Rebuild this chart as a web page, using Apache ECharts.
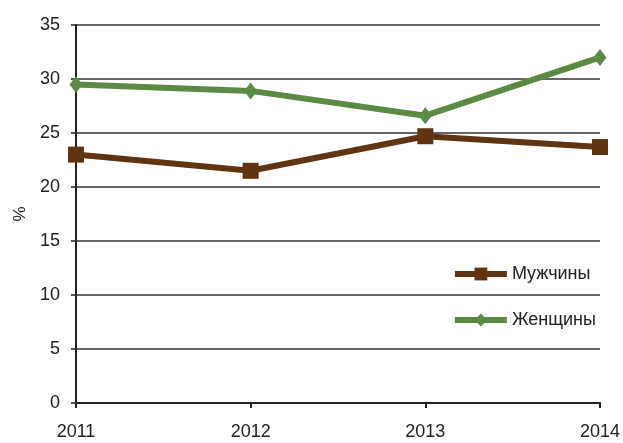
<!DOCTYPE html>
<html><head><meta charset="utf-8">
<script src="https://cdn.jsdelivr.net/npm/echarts@6/dist/echarts.min.js"></script>
<style>html,body{margin:0;padding:0;background:#fff}#c{width:623px;height:443px}</style>
</head><body><div id="c"></div>
<script>
var years = ['2011','2012','2013','2014'];
var men = [23.0, 21.5, 24.7, 23.7];
var women = [29.5, 28.9, 26.6, 32.0];
var menName = 'Мужчины';
var womenName = 'Женщины';
var FONT = '"Liberation Sans", Arial, sans-serif';
var chart = echarts.init(document.getElementById('c'));
chart.setOption({
  animation: false,
  grid: {left: 76, right: 20, top: 25, bottom: 40},
  legend: {
    orient: 'vertical', right: 22, top: 260, itemGap: 28,
    itemWidth: 52, itemHeight: 16,
    textStyle: {fontFamily: FONT, fontSize: 18, color: '#222'},
    data: [
      {name: menName, lineStyle: {width: 6}},
      {name: womenName, lineStyle: {width: 6}}
    ]
  },
  xAxis: {
    type: 'category', data: years, boundaryGap: false,
    axisLine: {lineStyle: {color: '#222', width: 2}},
    axisTick: {show: true, alignWithLabel: true, length: 5, lineStyle: {color: '#222', width: 2}},
    axisLabel: {fontFamily: FONT, fontSize: 18, color: '#222', margin: 20, showMinLabel: true, showMaxLabel: true}
  },
  yAxis: {
    type: 'value', min: 0, max: 35, interval: 5,
    name: '%', nameLocation: 'middle', nameGap: 46, nameRotate: 90,
    nameTextStyle: {fontFamily: FONT, fontSize: 17, color: '#222', padding: [0, 0, 0, 0]},
    axisLine: {show: true, lineStyle: {color: '#222', width: 2}},
    axisTick: {show: true, length: 5, lineStyle: {color: '#222', width: 1.5}},
    axisLabel: {fontFamily: FONT, fontSize: 18, color: '#222', margin: 16},
    splitLine: {lineStyle: {color: '#333', width: 1.5}}
  },
  series: [
    {name: menName, type: 'line', data: men, symbol: 'rect', symbolSize: 16,
     itemStyle: {color: '#603311'}, lineStyle: {color: '#603311', width: 6}, z: 3},
    {name: womenName, type: 'line', data: women, symbol: 'diamond', symbolSize: [13, 17],
     itemStyle: {color: '#5b8a44'}, lineStyle: {color: '#5b8a44', width: 6}, z: 4}
  ]
});
</script></body></html>
